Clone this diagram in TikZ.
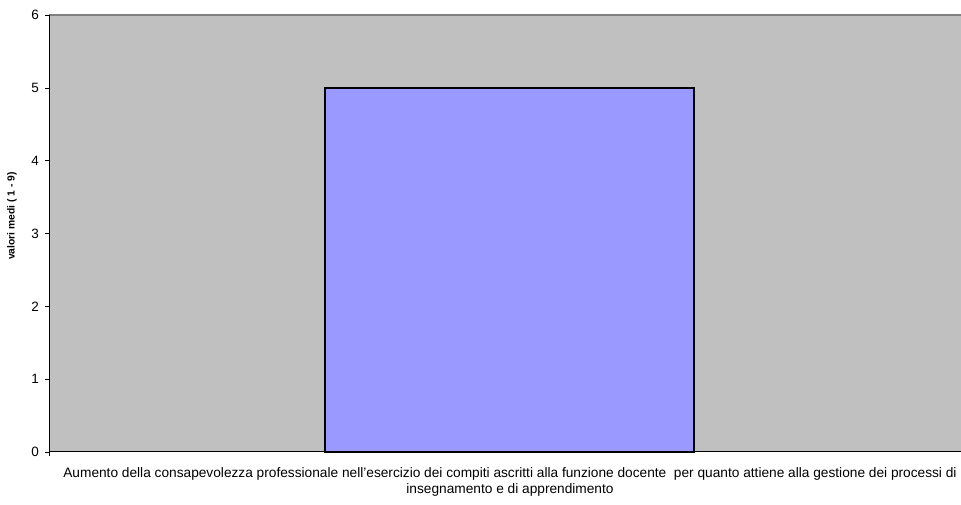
\documentclass[tikz,border=0pt]{standalone}
\usepackage{fontspec}
\setmainfont{Liberation Sans}
\usetikzlibrary{positioning}

\definecolor{plotgray}{HTML}{C0C0C0}
\definecolor{framegray}{HTML}{808080}
\definecolor{barblue}{HTML}{9999FF}

\begin{document}
\begin{tikzpicture}[x=1pt,y=1pt,font=\fontsize{13.5}{16}\selectfont]
        \useasboundingbox (0,0) rectangle (961,505);

        % Plot area
        \fill[plotgray] (49,53) rectangle (961,490);
        \draw[framegray,line width=2pt] (49,490) -- (961,490);

        % The one bar, value 5
        \draw[fill=barblue,line width=2pt] (325,53) rectangle (694,53+5*72.83);

        % Axes
        \draw[line width=1pt] (49,490) -- (49,53) -- (961,53);
        \draw (49,53) -- (49,49);

        \foreach \v in {0,1,2,3,4,5,6} {
            \draw (45,53+\v*72.83) -- (49,53+\v*72.83);
            \node[left,inner sep=0pt] (tick\v) at (39,53+\v*72.83) {\v};
          }

        % Axis titles
        \node[rotate=90,font=\fontsize{10.3}{12}\selectfont\bfseries] (ytitle) at (12,289)
          {valori medi ( 1 - 9)};
        \node[align=center,anchor=north,inner sep=0pt,font=\fontsize{13.7}{16}\selectfont] (xtitle) at (510,38)
          {Aumento della consapevolezza professionale nell'esercizio dei compiti ascritti alla funzione docente\ \ per quanto attiene alla gestione dei processi di\\
           insegnamento e di apprendimento};
\end{tikzpicture}
\end{document}
